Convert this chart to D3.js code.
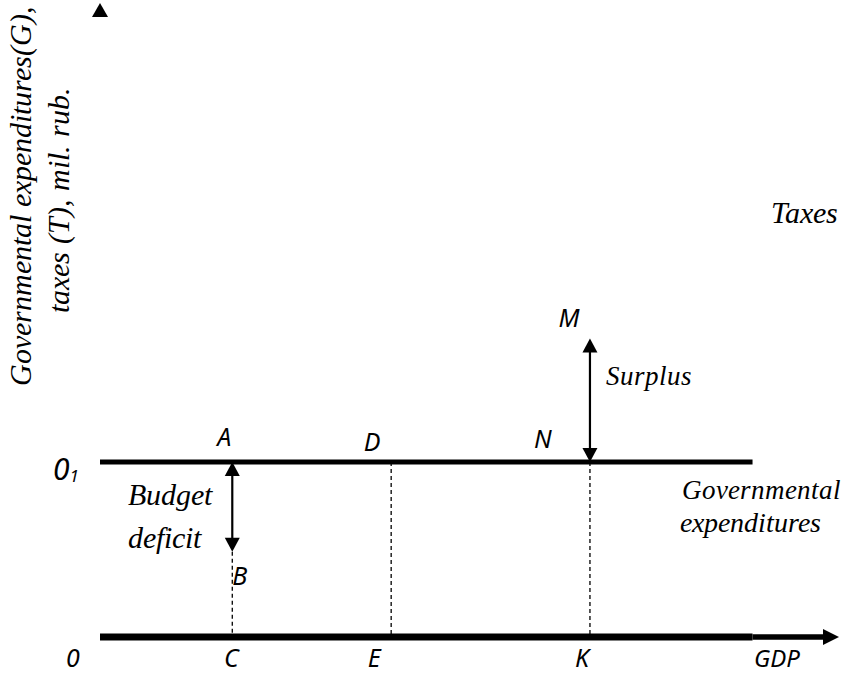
<!DOCTYPE html>
<html><head><meta charset="utf-8">
<script src="https://cdn.jsdelivr.net/npm/d3@7"></script>
<style>
html,body{margin:0;padding:0;background:#fff;}
svg{display:block;}
@font-face{font-family:"ChartSerifItalic";font-style:italic;font-weight:400;
  src:local("Liberation Serif Italic"),local("LiberationSerif-Italic"),local("Times New Roman Italic"),local("TimesNewRomanPS-ItalicMT");}
@font-face{font-family:"ChartSerifItalic";font-style:normal;font-weight:400;
  src:local("Liberation Serif Italic"),local("LiberationSerif-Italic"),local("Times New Roman Italic"),local("TimesNewRomanPS-ItalicMT");}
</style></head>
<body>
<svg id="c" width="850" height="675"></svg>
<script>
// Schematic data (GDP units on x, money units on y)
const gdpMax = 100;          // axis end
const lineEnd = 88.3;        // where the G line / thick axis ends
const govLevel = 27.9;       // governmental expenditures level (O1)
const gdpPoints = [
  {name:"C", top:"A", x:17.9},
  {name:"E", top:"D", x:39.4},
  {name:"K", top:"N", x:66.3}
];
const deficitLow = 13.6;     // point B
const surplusHigh = 47.6;    // point M
const yMax = 100;
const yTitle = ["Governmental expenditures(G),", "taxes (T), mil. rub."];

const SERIF = "ChartSerifItalic, Times New Roman, serif";
const SANS = "Noto Sans, Open Sans, sans-serif";

const svg = d3.select("#c");
const x = d3.scaleLinear().domain([0, gdpMax]).range([100, 839]);
const y = d3.scaleLinear().domain([0, yMax]).range([637, 10]);

// ---- serif labels ----
const gSerif = svg.append("g").attr("font-family", SERIF).attr("font-style","italic").attr("fill","#000");
const serif = (t, xx, yy, size, anchor) => gSerif.append("text").attr("x",xx).attr("y",yy)
  .attr("font-family",SERIF).attr("font-style","italic").attr("font-size",size)
  .attr("text-anchor",anchor||"start").text(t);
serif("Taxes", 838, 223, 30, "end");
serif("Budget", 128, 505, 30);
serif("deficit", 128, 548, 30);
serif("Surplus", 606, 385, 27);
serif("Governmental", 682, 499, 27);
serif("expenditures", 680, 532, 28);

// Y axis title (two rotated lines)
const yt = gSerif.append("text").attr("font-family",SERIF).attr("font-style","italic").attr("font-size",30)
  .attr("text-anchor","middle").attr("transform","translate(31,196) rotate(-90)");
yt.append("tspan").attr("x",0).attr("y",0).text(yTitle[0]);
yt.append("tspan").attr("x",-4).attr("y",38).text(yTitle[1]);

// Y axis arrowhead (axis line itself not visible)
svg.append("path").attr("d", `M${x(0)-8},${y(yMax)+7} L${x(0)+8},${y(yMax)+7} L${x(0)},${y(yMax)-7} Z`).attr("fill","#000");

// X axis: thick part, thinner continuation and arrowhead
svg.append("line").attr("x1",x(0)).attr("x2",x(lineEnd)).attr("y1",y(0)).attr("y2",y(0)).attr("stroke","#000").attr("stroke-width",7);
svg.append("line").attr("x1",x(lineEnd)).attr("x2",x(gdpMax)-14).attr("y1",y(0)).attr("y2",y(0)).attr("stroke","#000").attr("stroke-width",5.5);
svg.append("path").attr("d",`M${x(gdpMax)-16},${y(0)-8} L${x(gdpMax)},${y(0)} L${x(gdpMax)-16},${y(0)+8} Z`).attr("fill","#000");

// Governmental expenditures line
svg.append("line").attr("x1",x(0)).attr("x2",x(lineEnd)).attr("y1",y(govLevel)).attr("y2",y(govLevel)).attr("stroke","#000").attr("stroke-width",5);

// dashed verticals
svg.append("line").attr("x1",x(gdpPoints[0].x)).attr("x2",x(gdpPoints[0].x)).attr("y1",y(deficitLow)).attr("y2",y(0)).attr("stroke","#000").attr("stroke-width",1.3).attr("stroke-dasharray","4,3");
gdpPoints.slice(1).forEach(p=>{
  svg.append("line").attr("x1",x(p.x)).attr("x2",x(p.x)).attr("y1",y(govLevel)).attr("y2",y(0)).attr("stroke","#000").attr("stroke-width",1.3).attr("stroke-dasharray","4,3");
});

// double arrows
function dblArrow(xv, y1v, y2v){
  const X = x(xv), Y1 = y(y1v), Y2 = y(y2v); // Y1 top, Y2 bottom
  const h = 14, w = 7.5;
  svg.append("line").attr("x1",X).attr("x2",X).attr("y1",Y1+h-1).attr("y2",Y2-h+1).attr("stroke","#000").attr("stroke-width",2.2);
  svg.append("path").attr("d",`M${X},${Y1} L${X-w},${Y1+h} L${X+w},${Y1+h} Z`).attr("fill","#000");
  svg.append("path").attr("d",`M${X},${Y2} L${X-w},${Y2-h} L${X+w},${Y2-h} Z`).attr("fill","#000");
}
dblArrow(gdpPoints[0].x, govLevel, deficitLow);
dblArrow(gdpPoints[2].x, surplusHigh, govLevel);

// Letter labels (sans italic)
const sans = (t, xx, yy, size, anchor) => svg.append("text").attr("x",xx).attr("y",yy)
  .attr("font-family",SANS).attr("font-style","italic").attr("font-size",size)
  .attr("text-anchor",anchor||"middle").attr("fill","#000").text(t);
sans("0", 73, 667, 25);
const o1 = svg.append("text").attr("x",53).attr("y",480)
  .attr("font-family",SANS).attr("font-style","italic").attr("font-size",30).attr("fill","#000");
o1.append("tspan").text("0");
o1.append("tspan").attr("font-size",17).attr("dy",2).text("1");

const bottomShift = [-1, -17, -8];
gdpPoints.forEach((p,i)=>{ sans(p.name, x(p.x)+bottomShift[i], 667, 25); });
sans("A", x(gdpPoints[0].x)-8, 446, 25);
sans("D", x(gdpPoints[1].x)-19, 451, 25);
sans("N", x(gdpPoints[2].x)-47, 448, 25);
sans("M", x(gdpPoints[2].x)-21, 327, 25);
sans("B", x(gdpPoints[0].x), 585, 25, "start");
sans("GDP", 777, 667, 24);
</script>
</body></html>
